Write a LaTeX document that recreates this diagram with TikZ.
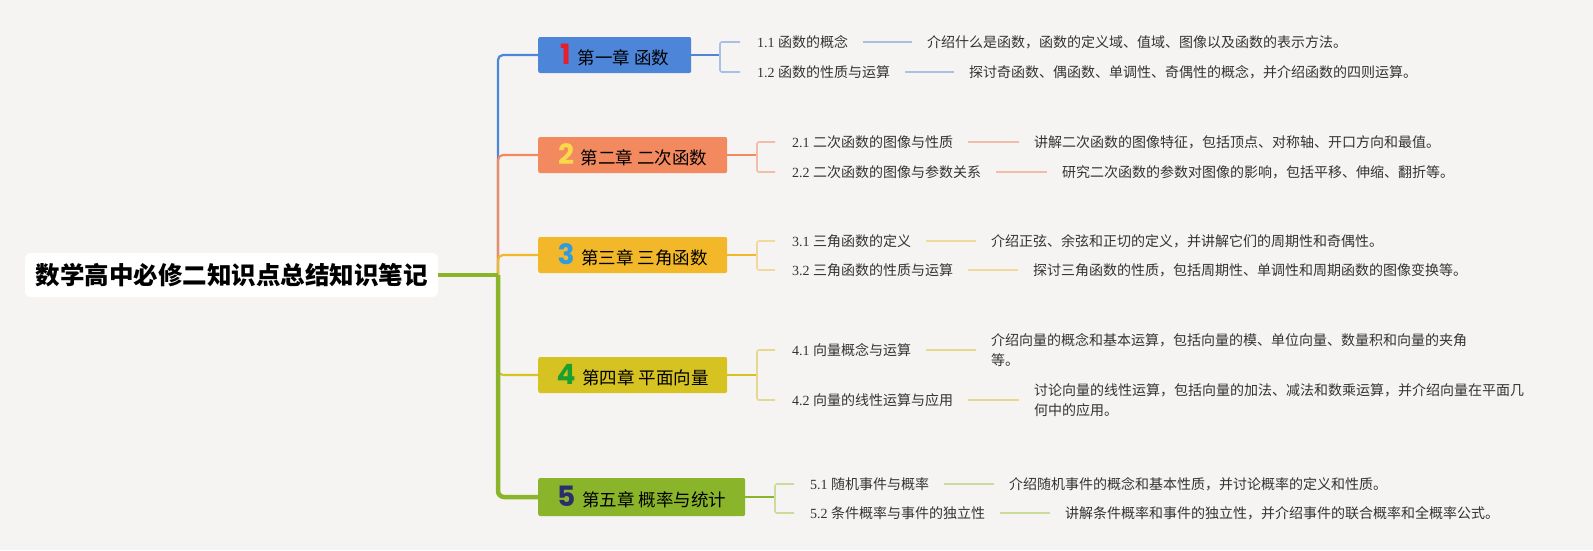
\documentclass[tikz,border=0pt]{standalone}
\usepackage{fontspec}
\setmainfont{Noto Sans CJK SC}
\newfontfamily\numf{Liberation Serif}
\newfontfamily\bignum{Poppins}
\usetikzlibrary{calc}
\definecolor{bgc}{HTML}{F5F4F2}
\definecolor{txt}{HTML}{333333}
\definecolor{cA}{HTML}{4D86D9}\definecolor{sA}{HTML}{A8C0E4}
\definecolor{cB}{HTML}{F2895F}\definecolor{sB}{HTML}{F1BCA8}
\definecolor{cC}{HTML}{F2B829}\definecolor{sC}{HTML}{F1D99E}
\definecolor{cD}{HTML}{D6C322}\definecolor{sD}{HTML}{E6D88E}
\definecolor{cE}{HTML}{8AB52B}\definecolor{sE}{HTML}{CADB9C}
\definecolor{nA}{HTML}{E3202D}\definecolor{nB}{HTML}{F9D84A}
\definecolor{nC}{HTML}{2F9BE0}\definecolor{nD}{HTML}{1E9E2E}
\definecolor{nE}{HTML}{2B2E6E}
\tikzset{
  rootbox/.style={fill=white, rounded corners=6pt, minimum width=413pt, minimum height=44pt, inner sep=0pt,
    font=\fontsize{24.5}{28}\selectfont\bfseries, text=black},
  chapbox/.style={rounded corners=2pt, anchor=west, minimum height=36pt, inner sep=0pt,
    font=\fontsize{17.5}{20}\selectfont, text=black},
  sublab/.style={anchor=west, inner sep=0pt, font=\fontsize{14}{20}\selectfont, text=txt},
  desc/.style={anchor=west, inner sep=0pt, align=left, font=\fontsize{14}{20}\selectfont, text=txt},
  trunk/.style={line width=2.2pt, rounded corners=5pt},
  fork/.style={line width=1.8pt},
  brack/.style={line width=1.6pt, rounded corners=2pt},
  link/.style={line width=1.5pt},
}
\newcommand\num[2]{{\color{#1}\fontsize{28}{28}\selectfont\bignum\bfseries #2}\hspace{7pt}}
\newcommand\lb[2]{{\numf #1 }#2}
\begin{document}
\begin{tikzpicture}[x=1pt,y=-1pt]
\fill[bgc] (0,0) rectangle (1593,550);
\path[use as bounding box] (0,0) rectangle (1593,550);

% root
\node[rootbox] (root) at (231.5,275) {数学高中必修二知识点总结知识笔记};
\coordinate (J) at (498,275);

% chapters
\node[chapbox, fill=cA, minimum width=153pt] (c1) at (538,55) {\num{nA}{1}第一章 函数};
\node[chapbox, fill=cB, minimum width=189pt] (c2) at (538,155) {\num{nB}{2}第二章 二次函数};
\node[chapbox, fill=cC, minimum width=189pt] (c3) at (538,255) {\num{nC}{3}第三章 三角函数};
\node[chapbox, fill=cD, minimum width=189pt] (c4) at (538,375) {\num{nD}{4}第四章 平面向量};
\node[chapbox, fill=cE, minimum width=207pt, minimum height=38pt] (c5) at (538,497) {\num{nE}{5}第五章 概率与统计};

% trunk connectors
\draw[trunk, cA] (J) |- (c1.west);
\draw[trunk, cB] (J) |- (c2.west);
\draw[trunk, cC] (J) |- (c3.west);
\draw[trunk, cD] (J) |- (c4.west);
\draw[line width=4.5pt, cE] (root.east) -- (J);
\draw[line width=4.5pt, cE, rounded corners=6pt] (J) |- (c5.west);

% sub labels
\node[sublab] (l11) at (757,42) {\lb{1.1}{函数的概念}};
\node[sublab] (l12) at (757,72) {\lb{1.2}{函数的性质与运算}};
\node[sublab] (l21) at (792,142) {\lb{2.1}{二次函数的图像与性质}};
\node[sublab] (l22) at (792,172) {\lb{2.2}{二次函数的图像与参数关系}};
\node[sublab] (l31) at (792,241) {\lb{3.1}{三角函数的定义}};
\node[sublab] (l32) at (792,270) {\lb{3.2}{三角函数的性质与运算}};
\node[sublab] (l41) at (792,350) {\lb{4.1}{向量概念与运算}};
\node[sublab] (l42) at (792,400) {\lb{4.2}{向量的线性运算与应用}};
\node[sublab] (l51) at (810,484) {\lb{5.1}{随机事件与概率}};
\node[sublab] (l52) at (810,513) {\lb{5.2}{条件概率与事件的独立性}};

% descriptions
\node[desc] (d11) at (927,42) {介绍什么是函数，函数的定义域、值域、图像以及函数的表示方法。};
\node[desc] (d12) at (969,72) {探讨奇函数、偶函数、单调性、奇偶性的概念，并介绍函数的四则运算。};
\node[desc] (d21) at (1034,142) {讲解二次函数的图像特征，包括顶点、对称轴、开口方向和最值。};
\node[desc] (d22) at (1062,172) {研究二次函数的参数对图像的影响，包括平移、伸缩、翻折等。};
\node[desc] (d31) at (991,241) {介绍正弦、余弦和正切的定义，并讲解它们的周期性和奇偶性。};
\node[desc] (d32) at (1033,270) {探讨三角函数的性质，包括周期性、单调性和周期函数的图像变换等。};
\node[desc] (d41) at (991,350) {介绍向量的概念和基本运算，包括向量的模、单位向量、数量积和向量的夹角\\等。};
\node[desc] (d42) at (1034,400) {讨论向量的线性运算，包括向量的加法、减法和数乘运算，并介绍向量在平面几\\何中的应用。};
\node[desc] (d51) at (1009,484) {介绍随机事件的概念和基本性质，并讨论概率的定义和性质。};
\node[desc] (d52) at (1065,513) {讲解条件概率和事件的独立性，并介绍事件的联合概率和全概率公式。};

% forks
\coordinate (f1) at (720,55);
\coordinate (f2) at (757,155);
\coordinate (f3) at (757,255);
\coordinate (f4) at (757,375);
\coordinate (f5) at (775,497);
\draw[fork, cA] (c1.east) -- (f1);
\draw[fork, cB] (c2.east) -- (f2);
\draw[fork, cC] (c3.east) -- (f3);
\draw[fork, cD] (c4.east) -- (f4);
\draw[fork, cE] (c5.east) -- (f5);
\draw[brack, sA] ($(l11.west)+(-17,0)$) -| (f1) |- ($(l12.west)+(-17,0)$);
\draw[brack, sB] ($(l21.west)+(-17,0)$) -| (f2) |- ($(l22.west)+(-17,0)$);
\draw[brack, sC] ($(l31.west)+(-17,0)$) -| (f3) |- ($(l32.west)+(-17,0)$);
\draw[brack, sD] ($(l41.west)+(-17,0)$) -| (f4) |- ($(l42.west)+(-17,0)$);
\draw[brack, sE] ($(l51.west)+(-16,0)$) -| (f5) |- ($(l52.west)+(-16,0)$);

% label-to-description links
\foreach \a/\c in {11/sA,12/sA,21/sB,22/sB,31/sC,32/sC,41/sD,42/sD,51/sE,52/sE}{
  \draw[link, \c] ($(l\a.east)+(15,0)$) -- ($(d\a.west)+(-15,0)$);
}
\end{tikzpicture}
\end{document}
